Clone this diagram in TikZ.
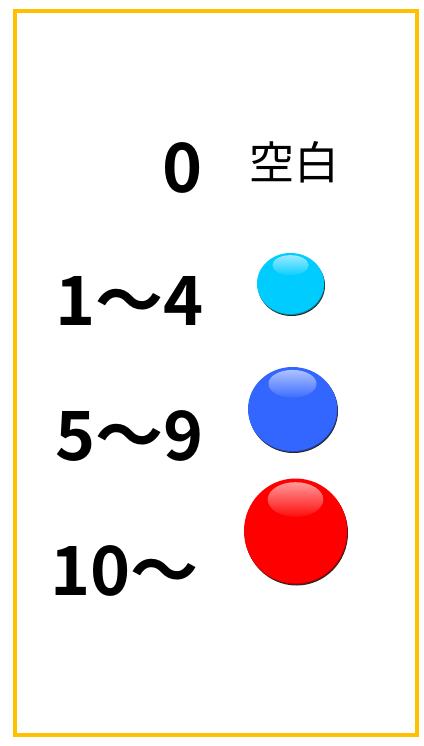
\documentclass[tikz,border=0pt]{standalone}
\usepackage{fontspec}
\newfontfamily\cjkb{Noto Sans CJK JP Bold}
\newfontfamily\cjk{Noto Sans CJK JP}
\usetikzlibrary{fadings}
\definecolor{frame}{HTML}{FFC000}
\definecolor{cyanball}{HTML}{00CCFF}
\definecolor{blueball}{HTML}{3366FF}
\definecolor{redball}{HTML}{FF0000}
\tikzfading[name=glossfade, top color=transparent!40, bottom color=transparent!95]
\tikzset{
  numlabel/.style={anchor=base east, inner sep=0pt, font=\cjkb\fontsize{68}{68}\selectfont},
  cjklabel/.style={anchor=base west, inner sep=0pt, font=\cjk\fontsize{45}{45}\selectfont},
}
\newcommand\glossball[6]{% x y rx ry color name
  \fill[black!85] (#1+1,#2+2) ellipse [x radius=#3, y radius=#4];
  \fill[#5!70!black] (#1+0.5,#2+1) ellipse [x radius=#3, y radius=#4];
  \fill[#5] (#1,#2) ellipse [x radius=#3, y radius=#4];
  \coordinate (#6) at (#1,#2);
  \fill[white, path fading=glossfade] (#1,#2-#4*0.6) ellipse [x radius=#3*0.54, y radius=#4*0.33];
}
\begin{document}
\begin{tikzpicture}[x=1pt,y=-1pt]
\useasboundingbox (0,0) rectangle (423,746);
\draw[frame, line width=4pt] (15,11) rectangle (417,735);

\node[numlabel] (n0) at (203,192) {0};
\node[numlabel] (n1) at (204,325) {1～4};
\node[numlabel] (n2) at (204,460) {5～9};
\node[numlabel] (n3) at (199,595) {10～};
\node[cjklabel] (blank) at (249,179) {空白};

\glossball{290.5}{283.5}{33.5}{30.5}{cyanball}{b1}
\glossball{292.5}{409}{44.5}{42}{blueball}{b2}
\glossball{295.5}{531}{51.5}{52.5}{redball}{b3}
\end{tikzpicture}
\end{document}
